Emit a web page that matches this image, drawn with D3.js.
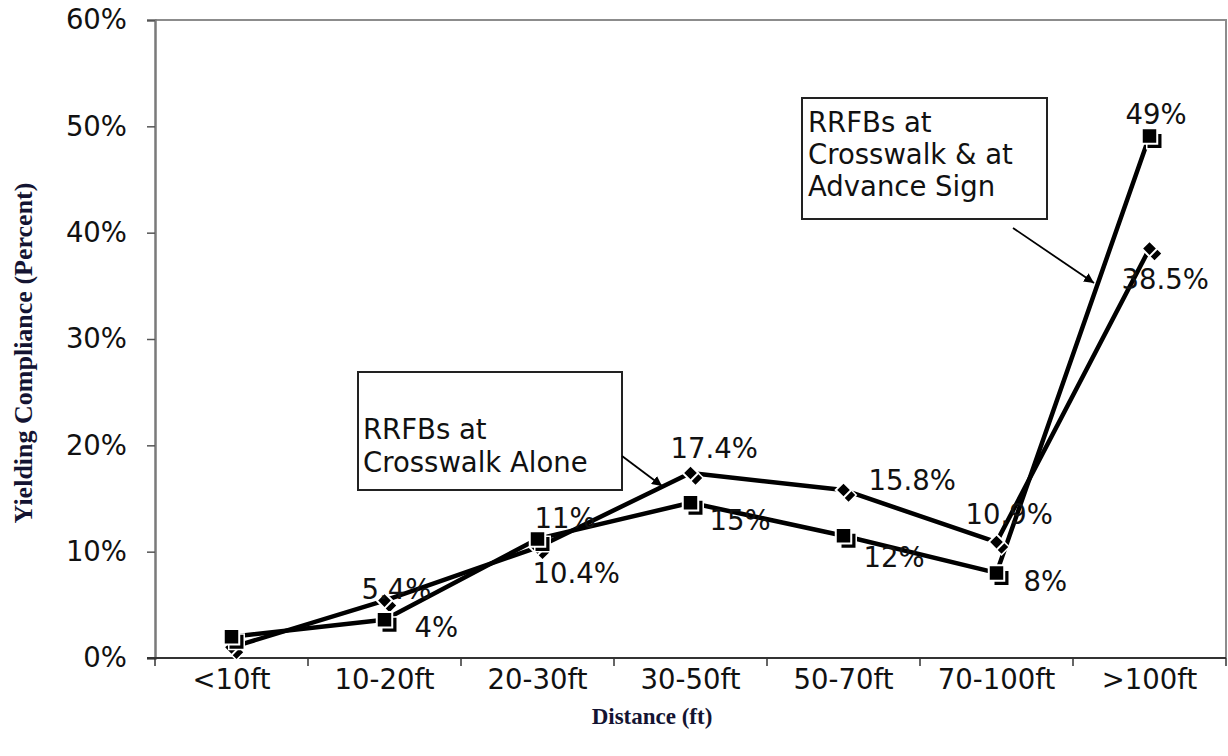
<!DOCTYPE html>
<html>
<head>
<meta charset="utf-8">
<script src="https://cdn.jsdelivr.net/npm/d3@7"></script>
<style>
  html, body { margin: 0; padding: 0; background: #fff; }
  svg { display: block; }
</style>
</head>
<body>
<svg id="chart" width="1228" height="756"></svg>
<script>
// ---------------- data ----------------
const categories = ["<10ft", "10-20ft", "20-30ft", "30-50ft", "50-70ft", "70-100ft", ">100ft"];
// RRFBs at Crosswalk & at Advance Sign (square markers)
const advanceValues = [2, 3.6, 11.2, 14.6, 11.5, 8.0, 49.1];
const advanceLabels = [null, "4%", "11%", "15%", "12%", "8%", "49%"];
// RRFBs at Crosswalk Alone (diamond markers)
const aloneValues = [1.0, 5.4, 10.4, 17.4, 15.8, 10.9, 38.5];
const aloneLabels = [null, "5.4%", "10.4%", "17.4%", "15.8%", "10.9%", "38.5%"];
const yTicks = [0, 10, 20, 30, 40, 50, 60];
const yTitle = "Yielding Compliance (Percent)";
const xTitle = "Distance (ft)";
const note1 = ["RRFBs at", "Crosswalk Alone"];
const note2 = ["RRFBs at", "Crosswalk & at", "Advance Sign"];

// ---------------- layout ----------------
const svg = d3.select("#chart");
const L = 155, R = 1226, T = 20, B = 658;
const x = d3.scaleBand().domain(categories).range([L, R]);
const y = d3.scaleLinear().domain([0, 60]).range([B, T]);
const cx = c => x(c) + x.bandwidth() / 2;
const FONT = "'DejaVu Sans', Verdana, sans-serif";
const FS = 27.5;
const SERIF = "'Liberation Serif', 'Times New Roman', serif";

// frame (top & right)
svg.append("path")
  .attr("d", `M${L},${T}H${R}V${B}`)
  .attr("fill", "none").attr("stroke", "#8c8c8c").attr("stroke-width", 2);

// y axis
const yAxis = d3.axisLeft(y).tickValues(yTicks).tickFormat(d => d + "%").tickSize(8).tickPadding(20);
const gy = svg.append("g").attr("transform", `translate(${L},0)`).call(yAxis);
gy.select(".domain").attr("stroke", "#7a7a7a").attr("stroke-width", 2.5);
gy.selectAll(".tick line").attr("stroke", "#555").attr("stroke-width", 1.5);
gy.selectAll(".tick text").attr("font-family", FONT).attr("font-size", FS).attr("fill", "#111");

// x axis (labels at band centers, ticks at band edges)
const xAxis = d3.axisBottom(x).tickSize(0).tickPadding(11);
const gx = svg.append("g").attr("transform", `translate(0,${B})`).call(xAxis);
gx.select(".domain").remove();
gx.selectAll(".tick text").attr("font-family", FONT).attr("font-size", FS).attr("fill", "#111");
const edges = categories.map(c => x(c)).concat([x.range()[1]]);
svg.append("line").attr("x1", L - 8).attr("x2", R).attr("y1", B).attr("y2", B)
  .attr("stroke", "#333").attr("stroke-width", 2);
svg.selectAll(".xedge").data(edges).enter().append("line")
  .attr("x1", d => d).attr("x2", d => d).attr("y1", B).attr("y2", B + 8)
  .attr("stroke", "#333").attr("stroke-width", 1.5);

// axis titles
svg.append("text").text(yTitle)
  .attr("transform", `translate(32,${(T + B) / 2 + 14}) rotate(-90)`)
  .attr("text-anchor", "middle")
  .attr("font-family", SERIF)
  .attr("font-weight", "bold").attr("font-size", 26).attr("fill", "#141432");
svg.append("text").text(xTitle)
  .attr("x", 652).attr("y", 724)
  .attr("text-anchor", "middle")
  .attr("font-family", SERIF)
  .attr("font-weight", "bold").attr("font-size", 23).attr("fill", "#141432");

// ---------------- lines ----------------
const line = d3.line().x((d, i) => cx(categories[i])).y(d => y(d));
svg.append("path").datum(aloneValues).attr("d", line)
  .attr("fill", "none").attr("stroke", "#000").attr("stroke-width", 4.5).attr("stroke-linejoin", "round");
svg.append("path").datum(advanceValues).attr("d", line)
  .attr("fill", "none").attr("stroke", "#000").attr("stroke-width", 4.5).attr("stroke-linejoin", "round");

// ---------------- markers (with Excel-like shadow) ----------------
const diamond = d3.symbol().type(d3.symbolSquare).size(120)();
const square = d3.symbol().type(d3.symbolSquare).size(240)();
function markers(values, path, rot) {
  const g = svg.append("g");
  values.forEach((v, i) => {
    const px = cx(categories[i]), py = y(v);
    g.append("path").attr("d", path)
      .attr("transform", `translate(${px + 5},${py + 5}) rotate(${rot})`)
      .attr("fill", "#000").attr("stroke", "#fff").attr("stroke-width", 1.5);
    g.append("path").attr("d", path)
      .attr("transform", `translate(${px},${py}) rotate(${rot})`)
      .attr("fill", "#000").attr("stroke", "#fff").attr("stroke-width", 2);
  });
}
markers(aloneValues, diamond, 45);
markers(advanceValues, square, 0);

// ---------------- data labels ----------------
// offsets (start anchor) relative to marker centre
const advanceOff = [null, [30, 17], [-3, -11], [19, 27], [20, 31], [27, 18], [-24, -12]];
const aloneOff = [null, [-23, -2], [-5, 36], [-20, -15], [25, 0], [-31, -18], [-28, 40]];
function labels(values, texts, offs) {
  values.forEach((v, i) => {
    if (!texts[i]) return;
    svg.append("text").text(texts[i])
      .attr("x", cx(categories[i]) + offs[i][0])
      .attr("y", y(v) + offs[i][1])
      .attr("font-family", FONT).attr("font-size", FS).attr("fill", "#111");
  });
}
labels(aloneValues, aloneLabels, aloneOff);
labels(advanceValues, advanceLabels, advanceOff);

// ---------------- annotations ----------------
svg.append("defs").append("marker")
  .attr("id", "arr").attr("viewBox", "0 0 10 10").attr("refX", 10).attr("refY", 5)
  .attr("markerWidth", 10).attr("markerHeight", 10).attr("markerUnits", "userSpaceOnUse")
  .attr("orient", "auto")
  .append("path").attr("d", "M0,0L10,5L0,10Z").attr("fill", "#000");

function note(lines, bx, by, bw, bh, tx, ty, lh, a) {
  svg.append("rect").attr("x", bx).attr("y", by).attr("width", bw).attr("height", bh)
    .attr("fill", "#fff").attr("stroke", "#222").attr("stroke-width", 2);
  lines.forEach((t, i) => {
    svg.append("text").text(t).attr("x", tx).attr("y", ty + i * lh)
      .attr("font-family", FONT).attr("font-size", FS).attr("fill", "#111");
  });
  svg.append("line").attr("x1", a[0]).attr("y1", a[1]).attr("x2", a[2]).attr("y2", a[3])
    .attr("stroke", "#000").attr("stroke-width", 1.8).attr("marker-end", "url(#arr)");
}
note(note1, 358, 372, 264, 118, 363, 439, 33, [622, 456, 662, 486]);
note(note2, 802, 98, 245, 121, 808, 132, 32, [1013, 228, 1094, 283]);
</script>
</body>
</html>
